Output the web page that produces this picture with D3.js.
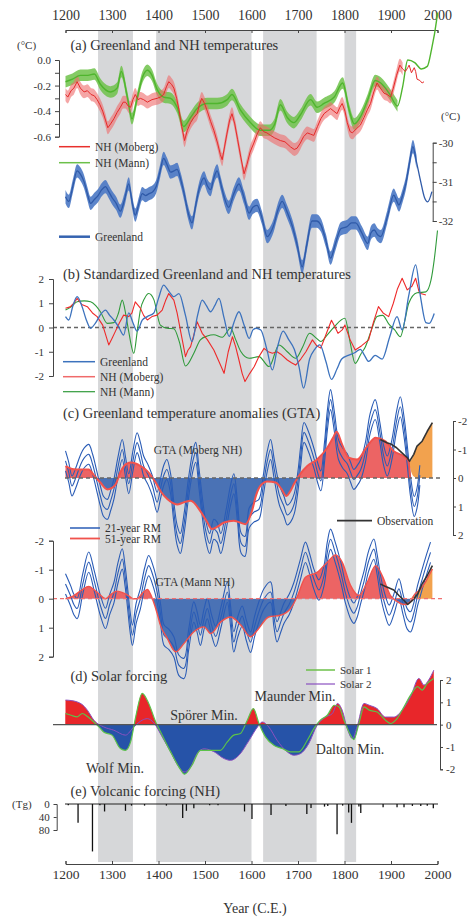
<!DOCTYPE html>
<html>
<head>
<meta charset="utf-8">
<script src="https://cdn.jsdelivr.net/npm/d3@7"></script>
<style>
  body { margin: 0; background: #fff; }
  svg text { font-family: "Liberation Serif", "Times New Roman", serif; fill: #333; }
</style>
</head>
<body>
<svg id="chart" width="471" height="917"></svg>
<script>
// ---- data ----
const yearTicks = [1200, 1300, 1400, 1500, 1600, 1700, 1800, 1900, 2000];
const minima = [[1270, 1345], [1395, 1600], [1625, 1740], [1800, 1825]];

// (a) NH temperatures (deg C) and Greenland temperature (deg C)
const mannA = [[1200,-0.17],[1215,-0.15],[1232,-0.12],[1248,-0.12],[1262,-0.11],[1275,-0.19],[1297,-0.25],[1311,-0.22],[1320,-0.09],[1333,-0.29],[1343,-0.46],[1354,-0.30],[1366,-0.13],[1376,-0.08],[1386,-0.12],[1397,-0.23],[1411,-0.29],[1426,-0.30],[1440,-0.37],[1454,-0.52],[1469,-0.45],[1483,-0.38],[1505,-0.34],[1526,-0.34],[1548,-0.31],[1558,-0.27],[1576,-0.39],[1598,-0.49],[1619,-0.55],[1638,-0.55],[1650,-0.50],[1662,-0.35],[1677,-0.45],[1691,-0.49],[1705,-0.43],[1727,-0.31],[1741,-0.37],[1756,-0.34],[1778,-0.29],[1796,-0.18],[1810,-0.39],[1821,-0.50],[1835,-0.44],[1850,-0.31],[1866,-0.16],[1878,-0.18],[1896,-0.26],[1914,-0.36],[1925,-0.21],[1936,0.00],[1951,-0.02],[1965,-0.07],[1978,-0.05],[1987,0.08],[1998,0.31],[2000,0.37]];
const mobergA = [[1200,-0.27],[1205,-0.29],[1212,-0.24],[1218,-0.22],[1225,-0.17],[1232,-0.22],[1240,-0.25],[1247,-0.24],[1255,-0.27],[1262,-0.28],[1268,-0.31],[1274,-0.35],[1280,-0.40],[1286,-0.47],[1291,-0.53],[1297,-0.50],[1304,-0.46],[1311,-0.41],[1318,-0.37],[1324,-0.33],[1329,-0.33],[1335,-0.36],[1340,-0.37],[1345,-0.31],[1350,-0.27],[1356,-0.31],[1361,-0.30],[1368,-0.31],[1376,-0.33],[1386,-0.31],[1397,-0.30],[1404,-0.29],[1411,-0.27],[1417,-0.21],[1422,-0.17],[1428,-0.19],[1433,-0.22],[1439,-0.30],[1444,-0.39],[1450,-0.52],[1456,-0.63],[1462,-0.55],[1469,-0.49],[1476,-0.45],[1483,-0.42],[1488,-0.35],[1493,-0.30],[1499,-0.34],[1505,-0.40],[1512,-0.48],[1519,-0.55],[1527,-0.65],[1533,-0.74],[1537,-0.78],[1542,-0.68],[1547,-0.58],[1553,-0.47],[1558,-0.42],[1564,-0.50],[1570,-0.62],[1577,-0.76],[1584,-0.89],[1590,-0.82],[1597,-0.72],[1605,-0.65],[1612,-0.58],[1619,-0.53],[1626,-0.56],[1633,-0.57],[1641,-0.59],[1650,-0.61],[1662,-0.63],[1672,-0.64],[1684,-0.68],[1692,-0.70],[1698,-0.69],[1705,-0.65],[1712,-0.60],[1720,-0.57],[1727,-0.58],[1734,-0.59],[1742,-0.52],[1749,-0.46],[1756,-0.42],[1763,-0.40],[1770,-0.38],[1777,-0.40],[1784,-0.42],[1790,-0.37],[1795,-0.34],[1801,-0.40],[1806,-0.49],[1812,-0.56],[1817,-0.57],[1825,-0.54],[1834,-0.51],[1842,-0.45],[1849,-0.39],[1856,-0.34],[1863,-0.25],[1870,-0.18],[1877,-0.22],[1885,-0.26],[1892,-0.27],[1899,-0.29],[1905,-0.22],[1912,-0.12],[1919,-0.04],[1925,-0.07],[1931,-0.09],[1936,-0.06],[1939,-0.04],[1944,-0.10],[1950,-0.06],[1953,-0.09],[1956,-0.15],[1962,-0.16],[1967,-0.18],[1971,-0.17]];
const greenlandA = [[1200,-31.38],[1207,-31.5],[1216,-31.1],[1225,-30.72],[1232,-30.8],[1240,-31.0],[1247,-31.3],[1254,-31.55],[1262,-31.45],[1270,-31.35],[1278,-31.2],[1286,-31.12],[1293,-31.25],[1300,-31.4],[1309,-31.55],[1318,-31.75],[1327,-31.45],[1336,-31.05],[1343,-31.5],[1350,-31.85],[1358,-31.55],[1365,-31.3],[1372,-31.35],[1380,-31.3],[1388,-31.25],[1395,-31.12],[1403,-30.75],[1411,-30.4],[1418,-30.55],[1426,-30.75],[1433,-30.72],[1440,-30.68],[1448,-30.95],[1456,-31.35],[1464,-31.8],[1472,-32.05],[1480,-31.6],[1487,-31.2],[1498,-30.9],[1505,-31.1],[1512,-31.2],[1519,-30.9],[1526,-30.72],[1534,-31.05],[1541,-31.38],[1551,-31.65],[1562,-31.3],[1573,-31.05],[1584,-31.4],[1595,-31.8],[1603,-31.65],[1612,-31.6],[1622,-31.9],[1634,-32.4],[1641,-32.3],[1648,-32.1],[1656,-31.75],[1666,-31.5],[1676,-31.75],[1688,-32.14],[1698,-32.6],[1709,-33.17],[1719,-32.6],[1730,-32.0],[1740,-32.0],[1749,-32.1],[1760,-32.5],[1770,-32.95],[1780,-32.6],[1792,-32.2],[1806,-32.14],[1815,-32.05],[1824,-32.05],[1837,-32.3],[1850,-32.57],[1857,-32.3],[1864,-32.23],[1871,-32.35],[1878,-32.40],[1892,-31.9],[1906,-31.34],[1911,-31.45],[1917,-31.59],[1925,-31.35],[1932,-31.04],[1940,-30.5],[1947,-30.10],[1955,-30.5],[1964,-31.0],[1972,-31.4],[1979,-31.51],[1988,-31.25]];

// (b) standardized series
const greenlandB = [[1200,0.45],[1207,0.31],[1216,0.9],[1225,1.27],[1235,0.9],[1245,0.3],[1254,-0.03],[1265,0.2],[1276,0.55],[1286,0.72],[1295,0.5],[1304,0.31],[1315,0.0],[1325,-0.31],[1336,0.6],[1345,0.2],[1354,-0.15],[1365,0.3],[1376,0.45],[1390,0.6],[1400,1.2],[1411,1.75],[1422,1.5],[1433,1.27],[1444,1.4],[1458,0.5],[1472,-0.58],[1484,0.5],[1494,1.13],[1503,0.9],[1512,0.65],[1521,0.9],[1530,1.2],[1541,0.4],[1552,-0.37],[1562,0.2],[1573,0.65],[1584,0.1],[1595,-0.45],[1603,-0.1],[1610,-0.03],[1620,-0.1],[1633,-0.9],[1645,-1.75],[1656,-0.8],[1668,-0.15],[1680,-0.5],[1692,-0.9],[1702,-1.6],[1712,-2.5],[1725,-1.3],[1736,-0.9],[1747,-0.72],[1760,-1.4],[1772,-2.14],[1784,-1.7],[1794,-1.3],[1808,-1.15],[1823,-1.03],[1834,-0.9],[1843,-1.15],[1852,-1.4],[1866,-1.15],[1881,-1.3],[1897,-0.4],[1913,0.45],[1924,-0.1],[1938,1.3],[1953,2.58],[1964,1.2],[1975,0.2],[1982,0.17],[1993,0.58]];
const mobergB = [[1200,0.79],[1210,0.85],[1218,1.0],[1225,1.2],[1235,0.95],[1247,0.86],[1258,0.6],[1268,0.45],[1280,0.1],[1293,-0.72],[1300,-0.45],[1307,-0.17],[1316,0.2],[1325,0.51],[1336,0.45],[1343,0.6],[1350,1.06],[1361,0.8],[1368,0.5],[1376,0.31],[1386,0.45],[1397,0.51],[1408,0.72],[1415,1.1],[1422,1.4],[1433,1.13],[1440,0.6],[1450,-0.4],[1458,-1.2],[1463,-0.95],[1469,-0.79],[1476,-0.3],[1483,0.24],[1494,-0.24],[1505,-0.5],[1519,-0.93],[1530,-1.4],[1541,-1.89],[1550,-1.0],[1559,-0.38],[1566,-0.8],[1573,-1.34],[1580,-1.9],[1586,-2.23],[1596,-1.9],[1606,-1.61],[1616,-1.2],[1627,-0.86],[1636,-1.0],[1645,-1.06],[1655,-1.0],[1663,-1.1],[1677,-1.34],[1686,-1.45],[1695,-1.55],[1706,-1.3],[1717,-1.0],[1731,-0.51],[1740,-0.75],[1749,-0.85],[1760,-0.3],[1772,0.3],[1780,0.0],[1786,-0.24],[1795,-0.1],[1801,0.1],[1812,-0.5],[1823,-0.93],[1837,-0.75],[1852,-0.51],[1862,0.2],[1873,0.86],[1883,0.6],[1895,0.45],[1905,1.0],[1914,1.6],[1924,2.03],[1935,1.55],[1945,1.7],[1953,2.03],[1960,1.5],[1964,1.4],[1975,1.34]];
const mannB = [[1200,0.72],[1212,0.85],[1225,1.06],[1240,1.1],[1254,1.06],[1265,0.9],[1275,0.65],[1290,0.17],[1304,0.2],[1314,0.6],[1322,1.13],[1330,0.5],[1336,-0.17],[1347,-1.06],[1354,-0.2],[1361,0.72],[1370,1.2],[1379,1.4],[1390,1.15],[1404,0.1],[1419,-0.03],[1433,-0.05],[1445,-0.6],[1458,-1.59],[1476,-1.06],[1490,-0.51],[1505,-0.35],[1519,-0.3],[1537,-0.4],[1555,-0.03],[1566,-0.5],[1577,-0.99],[1595,-1.27],[1616,-1.2],[1638,-1.61],[1659,-0.72],[1677,-1.0],[1695,-1.27],[1710,-0.8],[1725,-0.24],[1740,-0.45],[1749,-0.58],[1763,-0.3],[1778,0.03],[1801,0.38],[1812,-0.6],[1823,-1.48],[1835,-1.1],[1845,-0.79],[1858,-0.1],[1870,0.45],[1882,0.5],[1895,0.15],[1908,-0.1],[1920,-0.38],[1930,0.3],[1938,0.99],[1956,1.43],[1975,1.47],[1986,1.95],[1993,2.8],[2000,4.0]];

// (c) Greenland temperature anomalies (negative = warm, drawn upward)
const rmSpread = 0.35;
const gtaMobergRM21 = [[1200,-0.6],[1207,-0.2],[1214,0.28],[1222,0.0],[1232,-0.45],[1240,-0.7],[1250,-0.83],[1258,-0.5],[1265,-0.05],[1275,0.63],[1282,1.0],[1290,1.1],[1297,0.8],[1304,0.4],[1313,-0.4],[1322,-1.0],[1329,-0.4],[1336,0.2],[1345,-0.6],[1354,-1.24],[1361,-0.9],[1368,-0.42],[1378,-0.1],[1387,0.28],[1397,0.85],[1404,0.4],[1411,-0.08],[1418,-0.3],[1426,0.2],[1433,1.2],[1440,2.0],[1447,2.3],[1455,1.6],[1465,0.3],[1474,-0.6],[1480,-0.9],[1487,0.0],[1494,1.0],[1501,1.8],[1510,2.3],[1519,1.8],[1526,1.9],[1534,2.3],[1545,1.5],[1555,0.6],[1562,0.2],[1570,1.2],[1578,2.3],[1586,2.4],[1595,1.4],[1605,1.2],[1616,1.1],[1625,0.3],[1634,-0.6],[1641,-1.0],[1649,-0.3],[1660,0.6],[1670,1.0],[1677,1.3],[1684,1.2],[1692,0.9],[1700,0.1],[1706,-0.8],[1713,-1.6],[1722,-1.3],[1735,-0.65],[1742,-0.2],[1749,0.1],[1757,-0.9],[1763,-2.0],[1770,-2.75],[1778,-2.0],[1787,-1.0],[1796,-0.7],[1806,-0.5],[1813,-0.2],[1820,0.05],[1828,-0.1],[1835,-0.3],[1845,-0.9],[1855,-1.9],[1866,-2.4],[1876,-1.6],[1884,-0.8],[1892,-0.42],[1902,-1.0],[1912,-2.0],[1920,-2.5],[1928,-1.8],[1935,-0.8],[1942,0.3],[1950,1.0],[1956,0.7],[1962,-0.1]];
const gtaMobergRM51 = [[1200,-0.42],[1218,-0.31],[1235,-0.3],[1250,-0.3],[1261,-0.1],[1275,0.16],[1290,0.4],[1300,0.35],[1308,0.22],[1318,-0.2],[1326,-0.42],[1340,-0.54],[1352,-0.5],[1361,-0.42],[1376,-0.24],[1394,0.16],[1406,0.5],[1419,0.74],[1440,0.93],[1455,0.85],[1469,0.8],[1490,1.16],[1503,1.5],[1515,1.79],[1528,1.7],[1541,1.56],[1562,1.5],[1587,1.62],[1601,1.16],[1610,0.6],[1619,0.28],[1634,0.12],[1652,0.16],[1665,0.4],[1675,0.63],[1684,0.45],[1691,0.22],[1702,-0.08],[1720,-0.42],[1741,-0.65],[1763,-1.06],[1775,-1.4],[1783,-1.62],[1795,-1.17],[1809,-0.71],[1827,-0.65],[1849,-1.12],[1867,-1.41],[1888,-1.29],[1906,-0.94],[1928,-0.76],[1937,-0.62],[1941,0]];
const obsMoberg = [[1877,-1.35],[1891,-1.24],[1901,-1.18],[1912,-1.06],[1923,-0.89],[1935,-0.71],[1940,-0.59],[1949,-0.83],[1956,-1.12],[1967,-1.29],[1978,-1.64],[1989,-1.94]];
// [year, top, base]
const orangeMoberg = [[1938,-0.62,-0.62],[1942,-0.6,-0.3],[1949,-0.83,-0.05],[1956,-1.1,0],[1967,-1.28,0],[1978,-1.62,0],[1989,-1.94,0]];

const gtaMannRM21 = [[1200,-0.51],[1211,-0.1],[1218,0.2],[1225,0.34],[1237,-0.5],[1250,-1.26],[1262,-0.6],[1275,0.23],[1286,0.68],[1295,0.2],[1304,-0.2],[1313,-0.9],[1322,-1.37],[1328,-0.8],[1333,-0.1],[1339,0.8],[1344,1.26],[1352,0.5],[1361,0.0],[1370,-0.7],[1379,-1.14],[1388,-0.8],[1397,-0.23],[1405,0.6],[1412,1.26],[1422,1.4],[1433,1.66],[1444,2.3],[1455,2.4],[1465,1.4],[1476,0.46],[1483,0.8],[1490,1.26],[1498,0.7],[1505,0.34],[1514,0.9],[1523,1.3],[1535,0.6],[1548,-0.23],[1555,0.6],[1562,1.49],[1570,1.0],[1580,0.6],[1589,1.1],[1598,1.5],[1606,1.0],[1613,0.6],[1627,0.0],[1641,-0.23],[1648,0.6],[1655,1.14],[1663,0.8],[1670,0.5],[1681,0.2],[1691,-0.2],[1705,-1.0],[1716,-1.6],[1725,-1.2],[1734,-0.68],[1745,-0.3],[1756,-0.8],[1763,-1.6],[1770,-2.05],[1780,-1.6],[1792,-0.91],[1802,-0.2],[1813,0.34],[1820,0.5],[1827,0.3],[1835,-0.2],[1842,-0.6],[1852,-1.3],[1863,-1.71],[1870,-1.2],[1878,-0.4],[1887,0.2],[1896,0.57],[1906,0.2],[1917,-0.34],[1926,0.2],[1935,0.7],[1942,0.8],[1949,0.5],[1957,-0.1],[1964,-0.5],[1975,-1.1],[1985,-1.6]];
const gtaMannRM51 = [[1200,0],[1210,-0.05],[1218,-0.11],[1235,-0.3],[1250,-0.42],[1262,-0.3],[1272,-0.17],[1286,0],[1298,-0.15],[1311,-0.26],[1324,-0.2],[1336,-0.1],[1345,0],[1354,0],[1366,-0.2],[1376,-0.32],[1383,-0.15],[1389,0.1],[1397,0.5],[1404,0.91],[1419,1.37],[1437,1.83],[1455,1.54],[1476,1.14],[1498,0.97],[1512,1.2],[1534,0.8],[1555,0.63],[1577,0.91],[1598,1.31],[1613,1.08],[1637,0.63],[1662,0.57],[1684,0.34],[1698,-0.06],[1716,-0.74],[1741,-0.91],[1763,-1.26],[1781,-1.51],[1795,-1.26],[1813,-0.46],[1831,-0.11],[1849,-0.57],[1867,-1.14],[1881,-0.8],[1899,-0.11],[1913,0.09],[1928,0.2],[1942,0.11],[1949,-0.11],[1964,-0.34],[1975,-0.6],[1985,-0.91],[1989,-1.03]];
const obsMann = [[1877,-0.51],[1891,-0.4],[1906,-0.3],[1917,-0.11],[1928,0.06],[1936,0.2],[1946,0.06],[1957,-0.15],[1967,-0.51],[1978,-0.8],[1989,-1.14]];

// (d) solar forcing
const solar1 = [[1200,0.5],[1212,0.42],[1225,0.35],[1236,0.5],[1248,0.35],[1261,0.12],[1272,-0.1],[1282,-0.33],[1300,-0.47],[1318,-1.07],[1329,-1.15],[1340,-0.77],[1351,0.35],[1365,1.4],[1379,0.95],[1394,0.12],[1408,-0.47],[1426,-1.22],[1444,-1.9],[1456,-2.22],[1472,-1.82],[1490,-1.15],[1512,-1.15],[1533,-1.15],[1548,-0.77],[1562,-0.47],[1576,-0.4],[1591,0.2],[1604,0.72],[1616,0.05],[1630,-0.55],[1648,-0.92],[1666,-1.07],[1684,-1.22],[1702,-1.22],[1720,-0.7],[1734,-0.18],[1748,0.2],[1763,0.42],[1778,0.87],[1788,0.8],[1799,0.2],[1813,-0.47],[1820,-0.67],[1831,0.05],[1842,0.8],[1853,0.65],[1870,0.57],[1888,0.2],[1899,0.05],[1913,0.27],[1928,0.8],[1942,1.32],[1957,1.7],[1967,1.55],[1978,1.85],[1992,2.07]];
const solar2 = [[1200,1.1],[1212,1.08],[1225,1.02],[1236,0.9],[1247,0.65],[1261,0.2],[1282,-0.1],[1304,-0.25],[1329,-0.47],[1347,-0.1],[1365,0.2],[1376,0.27],[1390,0.08],[1408,-0.55],[1426,-1.22],[1444,-1.9],[1455,-2.12],[1469,-1.9],[1483,-1.3],[1498,-1.08],[1520,-1.22],[1541,-1.52],[1555,-1.6],[1573,-1.37],[1595,-0.7],[1613,-0.1],[1623,0.12],[1637,-0.1],[1655,-0.7],[1677,-1.22],[1691,-1.37],[1705,-1.3],[1723,-0.85],[1741,-0.03],[1759,0.34],[1774,0.5],[1785,0.95],[1795,0.65],[1806,-0.18],[1817,-0.62],[1827,-0.1],[1842,0.95],[1853,0.87],[1870,0.72],[1888,0.34],[1906,0.34],[1924,0.65],[1942,1.25],[1960,2.07],[1971,1.77],[1981,2.0],[1992,2.44]];

// (e) volcanic forcing (Tg)
const volcanic = [[1206,4],[1227,58],[1258,146],[1274,4],[1284,23],[1329,21],[1342,5],[1370,5],[1417,5],[1452,43],[1460,21],[1476,13],[1510,4],[1528,4],[1585,23],[1601,46],[1642,34],[1674,6],[1719,31],[1728,12],[1757,8],[1764,6],[1784,93],[1796,5],[1809,26],[1815,58],[1831,8],[1835,28],[1883,10],[1913,10],[1928,10],[1946,6],[1964,6],[1978,5],[1991,13]];

// ---- drawing ----
const serif = '"Liberation Serif", "Times New Roman", serif';
let svg = d3.select("#chart");
let defs = svg.append("defs");

let x = d3.scaleLinear().domain([1200, 2000]).range([65.5, 437.5]);

let yA = d3.scaleLinear().domain([-0.6, 0]).range([136.7, 60]);
let yG = d3.scaleLinear().domain([-32, -30]).range([221, 142.7]);
let yB = d3.scaleLinear().domain([-2, 2]).range([376, 279]);
let yC1 = d3.scaleLinear().domain([-2, 2]).range([421, 535]);
let yC2 = d3.scaleLinear().domain([-2, 2]).range([540.7, 656.7]);
let yD = d3.scaleLinear().domain([-2, 2]).range([769.3, 680]);
let yE = d3.scaleLinear().domain([0, 80]).range([804, 830]);

// gray minima bands
svg.append("g").selectAll("rect").data(minima).join("rect")
  .attr("x", d => x(d[0]))
  .attr("width", d => x(d[1]) - x(d[0]))
  .attr("y", 30)
  .attr("height", 832)
  .attr("fill", "#d6d7d9");

function styleAxis(g, size) {
  g.attr("font-family", serif).attr("font-size", size);
  g.selectAll("path").attr("stroke", "#444");
  g.selectAll("line").attr("stroke", "#444");
  g.selectAll("text").attr("fill", "#333");
}

function addText(t, px, py, size, anchor) {
  return svg.append("text")
    .attr("x", px).attr("y", py)
    .attr("font-size", size)
    .attr("text-anchor", anchor || "start")
    .text(t);
}

function drawLine(data, y, color, w, curve) {
  return svg.append("path").datum(data)
    .attr("fill", "none")
    .attr("stroke", color)
    .attr("stroke-width", w)
    .attr("stroke-linejoin", "round")
    .attr("d", d3.line().x(d => x(d[0])).y(d => y(d[1])).curve(curve || d3.curveMonotoneX));
}

function drawBand(data, y, hw, color, op) {
  return svg.append("path").datum(data)
    .attr("fill", color)
    .attr("opacity", op)
    .attr("d", d3.area().x(d => x(d[0]))
      .y0(d => y(d[1] - hw)).y1(d => y(d[1] + hw))
      .curve(d3.curveMonotoneX));
}

// area between a series and zero, red above the zero line, blue below
function splitFill(data, y, id, up, down) {
  let y0 = y(0);
  defs.append("clipPath").attr("id", id + "-up")
    .append("rect").attr("x", 0).attr("y", 0).attr("width", 471).attr("height", y0);
  defs.append("clipPath").attr("id", id + "-dn")
    .append("rect").attr("x", 0).attr("y", y0).attr("width", 471).attr("height", 917 - y0);
  let area = d3.area().x(d => x(d[0])).y0(y0).y1(d => y(d[1])).curve(d3.curveMonotoneX);
  svg.append("path").datum(data).attr("d", area).attr("fill", up).attr("clip-path", "url(#" + id + "-up)");
  svg.append("path").datum(data).attr("d", area).attr("fill", down).attr("clip-path", "url(#" + id + "-dn)");
}

function legendLine(x1, x2, yy, color, w, label, size) {
  svg.append("line").attr("x1", x1).attr("x2", x2).attr("y1", yy).attr("y2", yy)
    .attr("stroke", color).attr("stroke-width", w);
  addText(label, x2 + 5, yy + 4, size || 11.5);
}

// top axis
let topAxis = svg.append("g").attr("transform", "translate(0,30)")
  .call(d3.axisTop(x).tickValues(yearTicks).tickFormat(d3.format("d"))
    .tickSize(-3).tickSizeOuter(-3).tickPadding(10));
styleAxis(topAxis, 14);

// ---------- (a) ----------
addText("(a) Greenland and NH temperatures", 70.5, 50, 14.5);
addText("(°C)", 17, 49, 11);
drawBand(mannA.filter(d => d[0] <= 1915), yA, 0.045, "#6fc24a", 0.85);
drawBand(mobergA.filter(d => d[0] <= 1930), yA, 0.05, "#ee6a6a", 0.6);
drawLine(mannA, yA, "#4fb52e", 1.4);
drawLine(mobergA, yA, "#e52a2a", 1, d3.curveLinear);

let axA = svg.append("g").attr("transform", "translate(59,0)")
  .call(d3.axisLeft(yA).tickValues([0, -0.1, -0.2, -0.3, -0.4, -0.5, -0.6])
    .tickFormat(d => (Math.round(d * 10) % 2 === 0 ? d.toFixed(1) : ""))
    .tickSize(4).tickSizeOuter(4).tickPadding(4));
styleAxis(axA, 11);

legendLine(59, 90, 146.7, "#e8302c", 1.5, "NH (Moberg)");
legendLine(59, 90, 162.7, "#6cc04a", 1.5, "NH (Mann)");

drawBand(greenlandA.filter(d => d[0] <= 1956), yG, 0.17, "#4a78c4", 0.9);
drawLine(greenlandA, yG, "#2f5aa8", 1.3);
legendLine(59, 90, 236.7, "#3563b0", 2.5, "Greenland");

let axG = svg.append("g").attr("transform", "translate(432.7,0)")
  .call(d3.axisRight(yG).tickValues([-30, -30.5, -31, -31.5, -32])
    .tickFormat(d => (Number.isInteger(d) ? String(d) : ""))
    .tickSize(4).tickSizeOuter(4).tickPadding(2));
styleAxis(axG, 11);
addText("(°C)", 441, 120, 11);

// ---------- (b) ----------
addText("(b) Standardized Greenland and NH temperatures", 63, 279, 14.5);
svg.append("line").attr("x1", 53).attr("x2", 437).attr("y1", yB(0)).attr("y2", yB(0))
  .attr("stroke", "#666").attr("stroke-width", 1.6).attr("stroke-dasharray", "4,3");
drawLine(mannB, yB, "#2f9a3a", 1.1);
drawLine(mobergB, yB, "#ee2a2a", 1.1, d3.curveLinear);
drawLine(greenlandB, yB, "#3c72bd", 1.3);
let axB = svg.append("g").attr("transform", "translate(53,0)")
  .call(d3.axisLeft(yB).tickValues([2, 1, 0, -1, -2]).tickFormat(d => String(d))
    .tickSize(4).tickSizeOuter(4).tickPadding(5));
styleAxis(axB, 11);
legendLine(63, 95, 361.7, "#3c72bd", 1.5, "Greenland");
legendLine(63, 95, 376.7, "#f06a6a", 1.5, "NH (Moberg)");
legendLine(63, 95, 391.7, "#2f9a3a", 1.2, "NH (Mann)");

// ---------- (c) upper: Moberg ----------
addText("(c) Greenland temperature anomalies (GTA)", 63, 418, 14.5);
splitFill(gtaMobergRM51, yC1, "c1", "#ec6464", "#4a72b5");
svg.append("path").datum(orangeMoberg).attr("fill", "#f2a24e")
  .attr("d", d3.area().x(d => x(d[0])).y0(d => yC1(d[2])).y1(d => yC1(d[1])).curve(d3.curveMonotoneX));
[-rmSpread, 0, rmSpread].forEach(off => {
  drawLine(gtaMobergRM21.map(d => [d[0], d[1] + off]), yC1, "#2a5cb6", 1.1, d3.curveCatmullRom);
});
drawLine(gtaMobergRM51, yC1, "#f2524c", 2);
drawLine(obsMoberg, yC1, "#333", 1.6, d3.curveLinear);
svg.append("line").attr("x1", 65).attr("x2", 442).attr("y1", yC1(0)).attr("y2", yC1(0))
  .attr("stroke", "#666").attr("stroke-width", 1.4).attr("stroke-dasharray", "4,3");
addText("GTA (Moberg NH)", 198, 454, 11.5, "middle");
let axC1 = svg.append("g").attr("transform", "translate(453,0)")
  .call(d3.axisRight(yC1).tickValues([-2, -1, 0, 1, 2]).tickFormat(d => String(d))
    .tickSize(3).tickSizeOuter(3).tickPadding(2));
styleAxis(axC1, 11);
legendLine(337, 372, 520.7, "#333", 1.8, "Observation");

// ---------- (c) lower: Mann ----------
splitFill(gtaMannRM51.filter(d => d[0] <= 1946), yC2, "c2", "#ec6464", "#4a72b5");
svg.append("path").datum(gtaMannRM51.filter(d => d[0] >= 1942)).attr("fill", "#f2a24e")
  .attr("d", d3.area().x(d => x(d[0])).y0(yC2(0)).y1(d => yC2(Math.min(d[1], 0))).curve(d3.curveMonotoneX));
[-rmSpread, 0, rmSpread].forEach(off => {
  drawLine(gtaMannRM21.map(d => [d[0], d[1] + off]), yC2, "#2a5cb6", 1.1, d3.curveCatmullRom);
});
drawLine(gtaMannRM51, yC2, "#f2524c", 1.4);
drawLine(obsMann, yC2, "#333", 1.6, d3.curveLinear);
svg.append("line").attr("x1", 53).attr("x2", 442).attr("y1", yC2(0)).attr("y2", yC2(0))
  .attr("stroke", "#f07070").attr("stroke-width", 1.2).attr("stroke-dasharray", "4,3");
addText("GTA (Mann NH)", 195, 586, 11.5, "middle");
let axC2 = svg.append("g").attr("transform", "translate(53,0)")
  .call(d3.axisLeft(yC2).tickValues([-2, -1, 0, 1, 2]).tickFormat(d => String(d))
    .tickSize(4).tickSizeOuter(4).tickPadding(5));
styleAxis(axC2, 11);
legendLine(70, 100, 528, "#2a5cb6", 1.5, "21-year RM");
legendLine(70, 100, 538.5, "#f0524c", 1.8, "51-year RM");

// ---------- (d) solar ----------
addText("(d) Solar forcing", 70.5, 681, 14.5);
splitFill(solar2, yD, "d2", "#e8262a", "#2653a8");
splitFill(solar1, yD, "d1", "#e8262a", "#2653a8");
drawLine(solar2, yD, "#8a50c0", 1);
drawLine(solar1, yD, "#5cc24a", 1.2);
svg.append("line").attr("x1", 53).attr("x2", 437).attr("y1", yD(0)).attr("y2", yD(0))
  .attr("stroke", "#555").attr("stroke-width", 1.2);
let axD = svg.append("g").attr("transform", "translate(440,0)")
  .call(d3.axisRight(yD).tickValues([2, 1, 0, -1, -2]).tickFormat(d => String(d))
    .tickSize(3).tickSizeOuter(3).tickPadding(3));
styleAxis(axD, 11);
legendLine(306, 335, 670, "#6cc04a", 1.5, "Solar 1", 11);
legendLine(306, 335, 684, "#8a50c0", 1.2, "Solar 2", 11);
addText("Spörer Min.", 204, 720, 14, "middle");
addText("Maunder Min.", 295, 701, 14, "middle");
addText("Wolf Min.", 115, 773, 14, "middle");
addText("Dalton Min.", 350, 754, 14, "middle");

// ---------- (e) volcanic ----------
addText("(e) Volcanic forcing (NH)", 70.5, 796, 14.5);
addText("(Tg)", 12, 808, 11);
svg.append("line").attr("x1", 65).attr("x2", 438).attr("y1", yE(0)).attr("y2", yE(0))
  .attr("stroke", "#222").attr("stroke-width", 1.2);
svg.append("g").selectAll("line").data(volcanic).join("line")
  .attr("x1", d => x(d[0])).attr("x2", d => x(d[0]))
  .attr("y1", yE(0)).attr("y2", d => yE(d[1]))
  .attr("stroke", "#111").attr("stroke-width", 1.3);
let axE = svg.append("g").attr("transform", "translate(56.7,0)")
  .call(d3.axisLeft(yE).tickValues([0, 40, 80]).tickFormat(d => String(d))
    .tickSize(3).tickSizeOuter(3).tickPadding(4));
styleAxis(axE, 11);

// bottom axis
let botAxis = svg.append("g").attr("transform", "translate(0,864)")
  .call(d3.axisBottom(x).tickValues(yearTicks).tickFormat(d3.format("d"))
    .tickSize(-3).tickSizeOuter(-3).tickPadding(5));
styleAxis(botAxis, 13.5);
addText("Year (C.E.)", 255, 913, 14, "middle");
</script>
</body>
</html>
